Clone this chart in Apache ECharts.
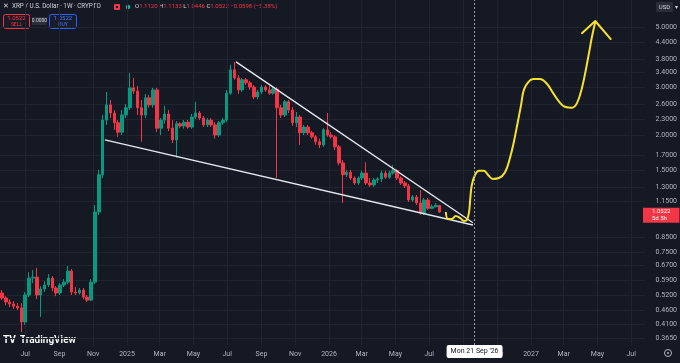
<!DOCTYPE html>
<html>
<head>
<meta charset="utf-8">
<script src="https://cdn.jsdelivr.net/npm/echarts@6/dist/echarts.min.js"></script>
<style>
  html, body { margin: 0; padding: 0; background: #151924; }
  #main { width: 680px; height: 363px; }
</style>
</head>
<body>
<div id="main"></div>
<script>
// weekly candles, first one starts on this monday
const firstWeek = [2024, 4, 20]

const opens = [
  0.532, 0.510, 0.493, 0.485, 0.476, 0.469, 0.417, 0.523, 0.603, 0.608,
  0.523, 0.550, 0.569, 0.603, 0.555, 0.532, 0.569, 0.583, 0.640, 0.536,
  0.532, 0.545, 0.514, 0.501, 0.583, 1.052, 1.44, 2.28, 2.59, 2.42,
  2.23, 2.06, 2.38, 2.53, 2.99, 2.91, 2.53, 2.38, 2.75, 2.59,
  2.94, 2.13, 2.28, 2.40, 2.13, 1.93, 2.21, 2.17, 2.24, 2.15,
  2.34, 2.42, 2.32, 2.19, 2.28, 2.19, 2.01, 2.23, 2.28, 2.86,
  3.48, 3.25, 2.94, 3.20, 3.12, 3.01, 2.77, 2.89, 3.01, 2.94,
  2.86, 2.96, 2.53, 2.38, 2.66, 2.48, 2.23, 2.34, 2.05, 2.15,
  2.05, 1.98, 1.90, 1.85, 2.10, 2.01, 1.98, 1.82, 1.59, 1.44,
  1.47, 1.40, 1.343, 1.40, 1.46, 1.343, 1.321, 1.377, 1.39, 1.46,
  1.41, 1.46, 1.49, 1.40, 1.343, 1.310, 1.164, 1.194, 1.135, 1.043,
  1.164, 1.085, 1.100, 1.112
]
const closes = [
  0.510, 0.493, 0.485, 0.476, 0.469, 0.417, 0.523, 0.603, 0.608, 0.523,
  0.550, 0.569, 0.603, 0.555, 0.532, 0.569, 0.583, 0.640, 0.536, 0.532,
  0.545, 0.514, 0.501, 0.583, 1.052, 1.44, 2.28, 2.59, 2.42, 2.23,
  2.06, 2.38, 2.53, 2.99, 2.91, 2.53, 2.38, 2.75, 2.59, 2.94,
  2.13, 2.28, 2.40, 2.13, 1.93, 2.21, 2.17, 2.24, 2.15, 2.34,
  2.42, 2.32, 2.19, 2.28, 2.19, 2.01, 2.23, 2.28, 2.86, 3.48,
  3.25, 2.94, 3.20, 3.12, 3.01, 2.77, 2.89, 3.01, 2.94, 2.86,
  2.96, 2.53, 2.38, 2.66, 2.48, 2.23, 2.34, 2.05, 2.15, 2.05,
  1.98, 1.90, 1.85, 2.10, 2.01, 1.98, 1.82, 1.59, 1.44, 1.47,
  1.40, 1.343, 1.40, 1.46, 1.343, 1.321, 1.377, 1.39, 1.46, 1.41,
  1.46, 1.49, 1.40, 1.343, 1.310, 1.164, 1.194, 1.135, 1.043, 1.164,
  1.085, 1.100, 1.112, 1.0522
]
const lows = [
  0.501, 0.480, 0.472, 0.465, 0.461, 0.383, 0.407, 0.514, 0.578, 0.505,
  0.435, 0.536, 0.559, 0.540, 0.518, 0.523, 0.559, 0.573, 0.523, 0.523,
  0.525, 0.505, 0.493, 0.497, 0.573, 1.026, 1.40, 2.19, 2.32, 2.10,
  1.98, 2.01, 2.32, 2.48, 2.84, 2.38, 1.90, 2.32, 2.53, 2.53,
  2.06, 2.01, 2.21, 2.08, 1.88, 1.66, 2.13, 2.12, 2.12, 2.12,
  2.30, 2.28, 2.15, 2.15, 2.15, 1.95, 1.98, 2.19, 2.24, 2.82,
  3.20, 2.84, 2.89, 3.06, 2.94, 2.72, 2.72, 2.84, 2.89, 2.82,
  2.82, 1.40, 2.32, 2.34, 2.42, 2.17, 2.15, 1.85, 2.01, 2.01,
  1.95, 1.85, 1.80, 1.82, 1.98, 1.95, 1.77, 1.56, 1.135, 1.41,
  1.377, 1.321, 1.321, 1.377, 1.321, 1.299, 1.299, 1.343, 1.354, 1.39,
  1.39, 1.44, 1.377, 1.321, 1.288, 1.145, 1.145, 1.116, 1.026, 1.026,
  1.070, 1.078, 1.092, 1.0446
]
const highs = [
  0.545, 0.518, 0.505, 0.497, 0.489, 0.489, 0.536, 0.634, 0.645, 0.657,
  0.564, 0.588, 0.624, 0.613, 0.564, 0.578, 0.598, 0.668, 0.651, 0.559,
  0.555, 0.555, 0.523, 0.598, 1.116, 1.50, 2.38, 2.89, 2.70, 2.48,
  2.28, 2.48, 2.61, 3.39, 3.25, 3.04, 2.70, 2.84, 2.82, 2.99,
  2.99, 2.32, 2.57, 2.48, 2.28, 2.26, 2.24, 2.28, 2.28, 2.40,
  2.66, 2.46, 2.36, 2.32, 2.32, 2.24, 2.26, 2.32, 2.94, 3.63,
  3.72, 3.33, 3.25, 3.25, 3.17, 3.06, 2.94, 3.06, 3.06, 3.04,
  3.01, 3.01, 2.59, 2.70, 2.70, 2.55, 2.44, 2.38, 2.19, 2.19,
  2.08, 2.01, 1.95, 2.13, 2.42, 2.06, 2.01, 1.85, 1.63, 1.50,
  1.50, 1.42, 1.42, 1.49, 1.60, 1.40, 1.40, 1.41, 1.49, 1.49,
  1.49, 1.56, 1.51, 1.42, 1.366, 1.332, 1.214, 1.214, 1.266, 1.184,
  1.184, 1.120, 1.135, 1.1133
]

// drawn trend lines and the hand drawn projection
const upperLine = [['2025-07-17', 3.72], ['2026-09-18', 0.961]]
const lowerLine = [['2024-11-22', 1.93], ['2026-09-18', 0.943]]
const projection = [
  ['2026-07-31', 1.052], ['2026-08-04', 0.992], ['2026-08-11', 0.992], ['2026-08-18', 1.018],
  ['2026-08-26', 1.000], ['2026-09-02', 0.975], ['2026-09-07', 0.983], ['2026-09-11', 1.052],
  ['2026-09-13', 1.164], ['2026-09-16', 1.321], ['2026-09-22', 1.44], ['2026-09-29', 1.49],
  ['2026-10-08', 1.49], ['2026-10-15', 1.44], ['2026-10-24', 1.39], ['2026-11-04', 1.40],
  ['2026-11-15', 1.47], ['2026-11-24', 1.66], ['2026-12-01', 1.90], ['2026-12-08', 2.24],
  ['2026-12-14', 2.59], ['2026-12-19', 2.94], ['2026-12-27', 3.14], ['2027-01-05', 3.22],
  ['2027-01-17', 3.22], ['2027-01-30', 3.09], ['2027-02-10', 2.86], ['2027-02-21', 2.66],
  ['2027-03-03', 2.55], ['2027-03-16', 2.53], ['2027-03-25', 2.63], ['2027-04-03', 2.99],
  ['2027-04-10', 3.48], ['2027-04-16', 4.04], ['2027-04-21', 4.59], ['2027-04-27', 5.21]
]
const arrowHead = [['2027-04-03', 4.74], ['2027-04-27', 5.25], ['2027-05-25', 4.51]]

const yTicks = [5.0, 4.4, 3.8, 3.4, 3.0, 2.6, 2.3, 2.0, 1.7, 1.5, 1.3, 1.15,
  0.85, 0.75, 0.67, 0.59, 0.52, 0.46, 0.41, 0.365]
const xTicks = ['2024-07-01', '2024-09-01', '2024-11-01', '2025-01-01', '2025-03-01',
  '2025-05-01', '2025-07-01', '2025-09-01', '2025-11-01', '2026-01-01', '2026-03-01',
  '2026-05-01', '2026-07-01', '2026-09-01', '2026-11-01', '2027-01-01', '2027-03-01',
  '2027-05-01', '2027-07-01']
const markerDate = '2026-09-21'
const lastPrice = 1.0522

const monthNames = ['Jan', 'Feb', 'Mar', 'Apr', 'May', 'Jun', 'Jul', 'Aug', 'Sep', 'Oct', 'Nov', 'Dec']
const ts = (s) => new Date(s + 'T00:00:00').getTime()
const pts = (list) => list.map((p) => [ts(p[0]), p[1]])

const candles = opens.map((o, i) => {
  const d = new Date(firstWeek[0], firstWeek[1], firstWeek[2] + 7 * i).getTime()
  return [d, o, closes[i], lows[i], highs[i]]
})

const UP = '#089981'
const DOWN = '#f23645'
const TXT = '#b2b5be'
const GRID = '#20242f'
const FONT = 'Roboto, "Noto Sans", sans-serif'

var myChart = echarts.init(document.getElementById('main'))

let option = {
  backgroundColor: '#151924',
  animation: false,
  grid: { left: 0, right: 35, top: 0, bottom: 18 },
  xAxis: {
    // timestamps on a plain value axis so the month ticks can be placed by hand
    type: 'value',
    scale: true,
    min: ts('2024-05-16') + 12 * 3600e3,
    max: ts('2027-07-25') + 22 * 3600e3,
    axisLine: { show: false },
    axisTick: { show: false, customValues: xTicks.map(ts) },
    splitLine: { show: true, lineStyle: { color: GRID, width: 1 } },
    axisLabel: {
      customValues: xTicks.map(ts),
      color: TXT,
      fontSize: 7,
      fontFamily: FONT,
      margin: 6,
      formatter: function (v) {
        const d = new Date(v)
        return d.getMonth() === 0 ? String(d.getFullYear()) : monthNames[d.getMonth()]
      },
    },
  },
  yAxis: {
    type: 'log',
    position: 'right',
    min: 0.3434,
    max: 6.265,
    axisLine: { show: false },
    axisTick: { show: false, customValues: yTicks },
    splitLine: { show: true, lineStyle: { color: GRID, width: 1 } },
    axisLabel: {
      customValues: yTicks,
      color: TXT,
      fontSize: 7,
      fontFamily: FONT,
      align: 'right',
      margin: 32,
      formatter: function (v) {
        return Number(v).toFixed(4)
      },
    },
  },
  series: [
    {
      type: 'candlestick',
      data: candles,
      encode: { x: 0, y: [1, 2, 3, 4] },
      barWidth: 3,
      itemStyle: {
        color: UP,
        color0: DOWN,
        borderColor: UP,
        borderColor0: DOWN,
        borderWidth: 1,
      },
      markLine: {
        silent: true,
        symbol: 'none',
        lineStyle: { color: 'rgba(0,0,0,0)', width: 1, type: 'solid' },
        label: {
          show: true,
          position: 'end',
          distance: 0,
          offset: [-2, 3],
          formatter: '1.0522\n5d 5h',
          backgroundColor: DOWN,
          color: '#ffffff',
          fontSize: 6,
          lineHeight: 7,
          fontFamily: FONT,
          padding: [1, 9, 0, 9],
        },
        data: [{ yAxis: lastPrice }],
      },
    },
    {
      type: 'line',
      data: pts(upperLine),
      symbol: 'none',
      lineStyle: { color: '#e6e8ee', width: 1.4 },
      z: 3,
    },
    {
      type: 'line',
      data: pts(lowerLine),
      symbol: 'none',
      lineStyle: { color: '#e6e8ee', width: 1.4 },
      z: 3,
    },
    {
      type: 'line',
      data: pts(projection),
      symbol: 'none',
      smooth: 0.4,
      lineStyle: { color: '#f5e12e', width: 2 },
      z: 4,
      markLine: {
        silent: true,
        symbol: 'none',
        lineStyle: { color: '#9a9ca6', width: 1, type: [2, 2] },
        label: {
          show: true,
          position: 'start',
          distance: 0,
          formatter: "Mon 21 Sep '26",
          backgroundColor: '#ffffff',
          color: '#131722',
          fontSize: 7,
          fontFamily: FONT,
          padding: [3, 4, 3, 4],
          borderRadius: 2,
        },
        data: [{ xAxis: ts(markerDate) }],
      },
    },
    {
      type: 'line',
      data: pts(arrowHead),
      symbol: 'none',
      lineStyle: { color: '#f5e12e', width: 2, join: 'round', cap: 'round' },
      z: 4,
    },
  ],
  graphic: [
    { type: 'text', left: 3, top: 3, style: { text: '✕', fill: '#d1d4dc', font: '6.5px ' + FONT } },
    {
      type: 'text', left: 12, top: 3,
      style: { text: 'XRP / U.S. Dollar · 1W · CRYPTO', fill: '#d1d4dc', font: '6.3px ' + FONT },
    },
    { type: 'rect', shape: { x: 114, y: 4, width: 6, height: 6, r: 1 }, style: { fill: DOWN } },
    { type: 'rect', shape: { x: 116, y: 6, width: 2, height: 2 }, style: { fill: '#151924' } },
    { type: 'circle', shape: { cx: 128, cy: 7, r: 2.3 }, style: { fill: '#22ab94' } },
    {
      type: 'text', left: 135, top: 3.5,
      style: {
        text: '{k|O}{v|1.1120} {k|H}{v|1.1133} {k|L}{v|1.0446} {k|C}{v|1.0522} {v|−0.0598 (−5.38%)}',
        font: '6px ' + FONT,
        rich: {
          k: { fill: '#d1d4dc', font: '6px ' + FONT },
          v: { fill: DOWN, font: '6px ' + FONT },
        },
      },
    },
    { type: 'rect', shape: { x: 3.5, y: 14.5, width: 26, height: 14, r: 2 }, style: { fill: '#1b1a24', stroke: DOWN, lineWidth: 1 } },
    { type: 'text', x: 16.5, y: 18.5, style: { text: '1.0522', fill: DOWN, font: '6px ' + FONT, align: 'center', verticalAlign: 'middle' } },
    { type: 'text', x: 16.5, y: 24.5, style: { text: 'SELL', fill: DOWN, font: '5px ' + FONT, align: 'center', verticalAlign: 'middle' } },
    { type: 'rect', shape: { x: 32, y: 17, width: 15, height: 8, r: 1 }, style: { fill: '#2a2e39' } },
    { type: 'text', x: 39.5, y: 21, style: { text: '0.0000', fill: '#d1d4dc', font: '5px ' + FONT, align: 'center', verticalAlign: 'middle' } },
    { type: 'rect', shape: { x: 49.5, y: 14.5, width: 27, height: 14, r: 2 }, style: { fill: '#181c2c', stroke: '#2962ff', lineWidth: 1 } },
    { type: 'text', x: 63, y: 18.5, style: { text: '1.0522', fill: '#3d7bff', font: '6px ' + FONT, align: 'center', verticalAlign: 'middle' } },
    { type: 'text', x: 63, y: 24.5, style: { text: 'BUY', fill: '#3d7bff', font: '5px ' + FONT, align: 'center', verticalAlign: 'middle' } },
    { type: 'rect', shape: { x: 656, y: 2, width: 17, height: 10, r: 1 }, style: { fill: '#2a2e39' } },
    { type: 'text', x: 664.5, y: 7, style: { text: 'USD', fill: '#d1d4dc', font: '6px ' + FONT, align: 'center', verticalAlign: 'middle' } },
    { type: 'text', x: 676, y: 7, style: { text: '▾', fill: '#d1d4dc', font: '6px ' + FONT, align: 'center', verticalAlign: 'middle' } },
    { type: 'text', left: 3, top: 335, style: { text: 'TV', fill: '#ffffff', font: 'bold 10px ' + FONT } },
    { type: 'text', left: 20, top: 335, style: { text: 'TradingView', fill: '#ffffff', font: '600 10px ' + FONT } },
    { type: 'circle', shape: { cx: 668, cy: 353, r: 3.5 }, style: { fill: 'none', stroke: TXT, lineWidth: 1 } },
    { type: 'circle', shape: { cx: 668, cy: 353, r: 1 }, style: { fill: TXT } },
  ],
}

myChart.setOption(option)
</script>
</body>
</html>
